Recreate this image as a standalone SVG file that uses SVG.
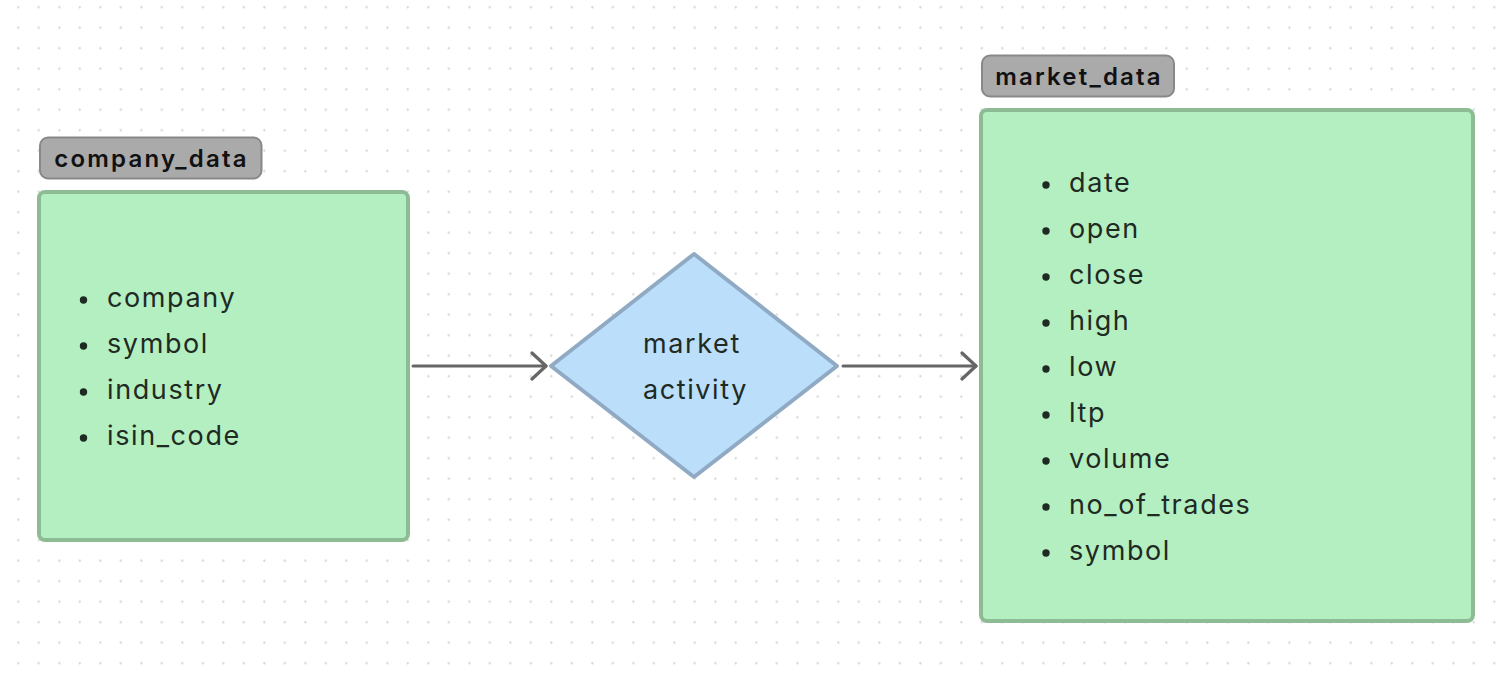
<svg xmlns="http://www.w3.org/2000/svg" width="1496" height="674" viewBox="0 0 1496 674">
<defs>
<pattern id="dots" x="8.05" y="-3" width="20.5" height="20.5" patternUnits="userSpaceOnUse">
<circle cx="10.25" cy="10.25" r="1.1" fill="#cfcfcf"/>
</pattern>
<marker id="arrow" viewBox="0 0 20 30" refX="17" refY="15" markerWidth="20" markerHeight="30" markerUnits="userSpaceOnUse" orient="auto">
<path d="M3,2 L17,15 L3,28" fill="none" stroke="#666" stroke-width="3.2" stroke-linecap="round" stroke-linejoin="round"/>
</marker>
<style>
.tag{fill:#aaaaaa;stroke:#888;stroke-width:2}
.tagtext{font-family:Inter,"Liberation Sans",sans-serif;font-weight:600;font-size:24px;letter-spacing:2.2px;fill:#111}
.box{fill:#b4efc2;stroke:#8dbc94;stroke-width:4}
.item{font-family:Inter,"Liberation Sans",sans-serif;font-size:27px;letter-spacing:1.6px;fill:#1f2a22}
.bullet{fill:#1f2a22}
.dia{fill:#bbdefb;stroke:#90aac4;stroke-width:4;stroke-linejoin:round}
.dtext{font-family:Inter,"Liberation Sans",sans-serif;font-size:27px;letter-spacing:1.6px;fill:#1f2a22;text-anchor:middle}
.conn{stroke:#666;stroke-width:3;fill:none;stroke-linecap:round}
</style>
</defs>
<rect width="1496" height="674" fill="#ffffff"/>
<rect width="1496" height="674" fill="url(#dots)"/>

<g id="company_data">
<rect class="tag" x="40" y="137.5" width="221.5" height="41" rx="8"/>
<text class="tagtext" x="151.5" y="167" text-anchor="middle">company_data</text>
<rect class="box" x="39" y="192" width="369" height="348" rx="6"/>
<circle class="bullet" cx="83.5" cy="300" r="3.7"/>
<text class="item" x="107" y="307">company</text>
<circle class="bullet" cx="83.5" cy="346" r="3.7"/>
<text class="item" x="107" y="353">symbol</text>
<circle class="bullet" cx="83.5" cy="392" r="3.7"/>
<text class="item" x="107" y="399">industry</text>
<circle class="bullet" cx="83.5" cy="438" r="3.7"/>
<text class="item" x="107" y="445">isin_code</text>
</g>

<g id="market_activity">
<path class="dia" d="M694,254 L837,366 L694,477 L551,366 Z"/>
<text class="dtext" x="692" y="353">market</text>
<text class="dtext" x="695.5" y="399">activity</text>
</g>

<g id="market_data">
<rect class="tag" x="982" y="55.5" width="192" height="41" rx="8"/>
<text class="tagtext" x="1079" y="85" text-anchor="middle">market_data</text>
<rect class="box" x="981" y="110" width="492" height="511" rx="6"/>
<circle class="bullet" cx="1046" cy="185" r="3.7"/>
<text class="item" x="1069" y="192">date</text>
<circle class="bullet" cx="1046" cy="231" r="3.7"/>
<text class="item" x="1069" y="238">open</text>
<circle class="bullet" cx="1046" cy="277" r="3.7"/>
<text class="item" x="1069" y="284">close</text>
<circle class="bullet" cx="1046" cy="323" r="3.7"/>
<text class="item" x="1069" y="330">high</text>
<circle class="bullet" cx="1046" cy="369" r="3.7"/>
<text class="item" x="1069" y="376">low</text>
<circle class="bullet" cx="1046" cy="415" r="3.7"/>
<text class="item" x="1069" y="422">ltp</text>
<circle class="bullet" cx="1046" cy="461" r="3.7"/>
<text class="item" x="1069" y="468">volume</text>
<circle class="bullet" cx="1046" cy="507" r="3.7"/>
<text class="item" x="1069" y="514">no_of_trades</text>
<circle class="bullet" cx="1046" cy="553" r="3.7"/>
<text class="item" x="1069" y="560">symbol</text>
</g>

<g id="connectors">
<line class="conn" x1="413" y1="366" x2="546" y2="366" marker-end="url(#arrow)"/>
<line class="conn" x1="843" y1="366" x2="976" y2="366" marker-end="url(#arrow)"/>
</g>
</svg>
